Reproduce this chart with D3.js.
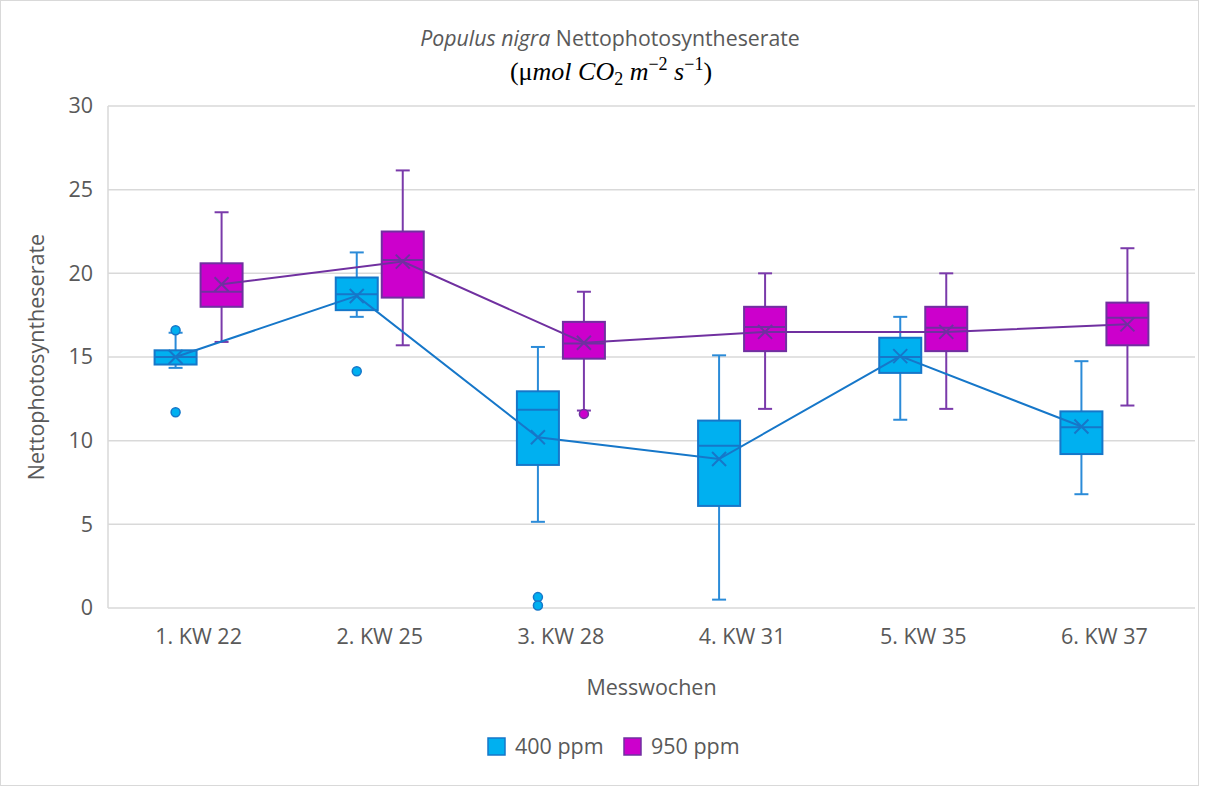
<!DOCTYPE html>
<html>
<head>
<meta charset="utf-8">
<script src="https://cdn.jsdelivr.net/npm/d3@7"></script>
<style>
  body { margin: 0; background: #fff; }
  text { font-family: "Open Sans", sans-serif; }
</style>
</head>
<body>
<div class="canvas"></div>
<script>
// data
const categories = ['1. KW 22', '2. KW 25', '3. KW 28', '4. KW 31', '5. KW 35', '6. KW 37'];
const seriesNames = ['400 ppm', '950 ppm'];

const low400  = [14.35, 17.4, 5.15, 0.5, 11.25, 6.8];
const q1_400  = [14.55, 17.8, 8.55, 6.1, 14.05, 9.2];
const med400  = [15.0, 18.75, 11.85, 9.7, 15.0, 10.8];
const q3_400  = [15.4, 19.75, 12.95, 11.2, 16.15, 11.75];
const high400 = [16.45, 21.25, 15.6, 15.1, 17.4, 14.75];
const mean400 = [15.0, 18.65, 10.2, 8.9, 15.05, 10.85];
const out400  = [[16.6, 11.7], [14.15], [0.65, 0.15], [], [], []];

const low950  = [15.9, 15.7, 11.8, 11.9, 11.9, 12.1];
const q1_950  = [18.0, 18.55, 14.9, 15.35, 15.35, 15.7];
const med950  = [18.9, 20.8, 15.8, 16.8, 16.75, 17.35];
const q3_950  = [20.6, 22.5, 17.1, 18.0, 18.0, 18.25];
const high950 = [23.65, 26.15, 18.9, 20.0, 20.0, 21.5];
const mean950 = [19.35, 20.7, 15.85, 16.5, 16.5, 16.95];
const out950  = [[], [], [11.6], [], [], []];

const yTicks = [0, 5, 10, 15, 20, 25, 30];

const dims = {width: 1206, height: 787};
const plot = {left: 108, right: 1195, top: 106, bottom: 608};
const fontSize = '21.5px';

const colors = {
    '400 ppm': {fill: '#00b0f0', stroke: '#1677c9', whisker: '#2b8bd8'},
    '950 ppm': {fill: '#cc00cc', stroke: '#7030a0', whisker: '#7a3aaa'}
};

const series = [
    {name: '400 ppm', low: low400, q1: q1_400, med: med400, q3: q3_400, high: high400, mean: mean400, out: out400, offset: -23},
    {name: '950 ppm', low: low950, q1: q1_950, med: med950, q3: q3_950, high: high950, mean: mean950, out: out950, offset: 23}
];

const svg = d3.select('.canvas')
    .append('svg')
    .attr('width', dims.width)
    .attr('height', dims.height);

// chart border
svg.append('rect')
    .attr('x', 0.5).attr('y', 0.5)
    .attr('width', 1198).attr('height', 785)
    .attr('fill', 'none')
    .attr('stroke', '#d9d9d9');

const x = d3.scaleBand()
    .domain(categories)
    .range([plot.left, plot.right]);

const y = d3.scaleLinear()
    .domain([0, 30])
    .range([plot.bottom, plot.top]);

// gridlines
svg.append('g')
    .selectAll('line')
    .data(yTicks)
    .enter().append('line')
        .attr('x1', plot.left).attr('x2', plot.right)
        .attr('y1', d => y(d)).attr('y2', d => y(d))
        .attr('stroke', '#d9d9d9')
        .attr('stroke-width', 1.5);

// left axis line
svg.append('line')
    .attr('x1', plot.left).attr('x2', plot.left)
    .attr('y1', plot.top).attr('y2', plot.bottom)
    .attr('stroke', '#d9d9d9')
    .attr('stroke-width', 1.5);

// y axis
const yAxis = d3.axisLeft(y).tickValues(yTicks).tickSize(0).tickPadding(15);
const yAxisGroup = svg.append('g')
    .attr('transform', `translate(${plot.left}, 0)`)
    .call(yAxis);
yAxisGroup.select('.domain').remove();
yAxisGroup.selectAll('text')
    .attr('fill', '#595959')
    .style('font-size', fontSize)
    .style('font-family', '"Open Sans", sans-serif');

// x axis
const xAxis = d3.axisBottom(x).tickSize(0).tickPadding(21);
const xAxisGroup = svg.append('g')
    .attr('transform', `translate(0, ${plot.bottom})`)
    .call(xAxis);
xAxisGroup.select('.domain').remove();
xAxisGroup.selectAll('text')
    .attr('fill', '#595959')
    .style('font-size', fontSize)
    .style('font-family', '"Open Sans", sans-serif');

// axis titles
svg.append('text')
    .attr('x', (plot.left + plot.right) / 2)
    .attr('y', 695)
    .attr('text-anchor', 'middle')
    .attr('fill', '#595959')
    .style('font-size', fontSize)
    .text('Messwochen');

svg.append('text')
    .attr('transform', `translate(44, ${(plot.top + plot.bottom) / 2}) rotate(-90)`)
    .attr('text-anchor', 'middle')
    .attr('fill', '#595959')
    .style('font-size', fontSize)
    .text('Nettophotosyntheserate');

// title
const title = svg.append('text')
    .attr('x', 610)
    .attr('y', 46)
    .attr('text-anchor', 'middle')
    .attr('fill', '#595959')
    .style('font-size', '21.3px');
title.append('tspan').style('font-style', 'italic').text('Populus nigra');
title.append('tspan').text(' Nettophotosyntheserate');

const unit = svg.append('text')
    .attr('x', 611)
    .attr('y', 80)
    .attr('text-anchor', 'middle')
    .attr('fill', '#000')
    .style('font-family', '"Liberation Serif", serif')
    .style('font-size', '26px');
unit.append('tspan').text('(μ');
unit.append('tspan').style('font-style', 'italic').text('mol CO');
unit.append('tspan').attr('dy', 5).style('font-size', '18px').text('2');
unit.append('tspan').attr('dy', -5).style('font-style', 'italic').text(' m');
unit.append('tspan').attr('dy', -10).style('font-size', '18px').text('−2');
unit.append('tspan').attr('dy', 10).style('font-style', 'italic').text(' s');
unit.append('tspan').attr('dy', -10).style('font-size', '18px').text('−1');
unit.append('tspan').attr('dy', 10).text(')');

// boxes
const boxW = 42;
const capW = 14;
const cx = (i, s) => x(categories[i]) + x.bandwidth() / 2 + s.offset;

series.forEach(s => {
    const c = colors[s.name];
    const g = svg.append('g');
    const idx = d3.range(categories.length);

    // whiskers
    g.selectAll('.whisker-up')
        .data(idx).enter().append('line')
            .attr('x1', i => cx(i, s)).attr('x2', i => cx(i, s))
            .attr('y1', i => y(s.q3[i])).attr('y2', i => y(s.high[i]))
            .attr('stroke', c.whisker).attr('stroke-width', 2);
    g.selectAll('.whisker-down')
        .data(idx).enter().append('line')
            .attr('x1', i => cx(i, s)).attr('x2', i => cx(i, s))
            .attr('y1', i => y(s.q1[i])).attr('y2', i => y(s.low[i]))
            .attr('stroke', c.whisker).attr('stroke-width', 2);
    g.selectAll('.cap-up')
        .data(idx).enter().append('line')
            .attr('x1', i => cx(i, s) - capW / 2).attr('x2', i => cx(i, s) + capW / 2)
            .attr('y1', i => y(s.high[i])).attr('y2', i => y(s.high[i]))
            .attr('stroke', c.whisker).attr('stroke-width', 2);
    g.selectAll('.cap-down')
        .data(idx).enter().append('line')
            .attr('x1', i => cx(i, s) - capW / 2).attr('x2', i => cx(i, s) + capW / 2)
            .attr('y1', i => y(s.low[i])).attr('y2', i => y(s.low[i]))
            .attr('stroke', c.whisker).attr('stroke-width', 2);

    // box
    g.selectAll('rect')
        .data(idx).enter().append('rect')
            .attr('x', i => cx(i, s) - boxW / 2)
            .attr('y', i => y(s.q3[i]))
            .attr('width', boxW)
            .attr('height', i => y(s.q1[i]) - y(s.q3[i]))
            .attr('fill', c.fill)
            .attr('stroke', c.stroke)
            .attr('stroke-width', 2);

    // median
    g.selectAll('.median')
        .data(idx).enter().append('line')
            .attr('x1', i => cx(i, s) - boxW / 2).attr('x2', i => cx(i, s) + boxW / 2)
            .attr('y1', i => y(s.med[i])).attr('y2', i => y(s.med[i]))
            .attr('stroke', c.stroke).attr('stroke-width', 2);

    // outliers
    const outs = [];
    s.out.forEach((vals, i) => vals.forEach(v => outs.push({i, v})));
    g.selectAll('circle')
        .data(outs).enter().append('circle')
            .attr('cx', d => cx(d.i, s))
            .attr('cy', d => y(d.v))
            .attr('r', 4.5)
            .attr('fill', c.fill)
            .attr('stroke', c.stroke)
            .attr('stroke-width', 1.5);
});

// mean lines and markers on top
series.forEach(s => {
    const c = colors[s.name];
    const idx = d3.range(categories.length);
    const line = d3.line()
        .x(i => cx(i, s))
        .y(i => y(s.mean[i]));

    svg.append('path')
        .attr('d', line(idx))
        .attr('fill', 'none')
        .attr('stroke', c.stroke)
        .attr('stroke-width', 2);

    const m = 7;
    svg.append('g').selectAll('path')
        .data(idx).enter().append('path')
            .attr('d', i => {
                const px = cx(i, s), py = y(s.mean[i]);
                return `M${px - m},${py - m}L${px + m},${py + m}M${px - m},${py + m}L${px + m},${py - m}`;
            })
            .attr('stroke', c.stroke)
            .attr('stroke-width', 2)
            .attr('fill', 'none');
});

// legend
const legend = svg.append('g')
    .attr('transform', 'translate(487, 737)');

const legendItems = legend.selectAll('g')
    .data(seriesNames)
    .enter().append('g')
        .attr('transform', (d, i) => `translate(${i * 136}, 0)`);

legendItems.append('rect')
    .attr('x', 1).attr('y', 1)
    .attr('width', 17).attr('height', 17)
    .attr('fill', d => colors[d].fill)
    .attr('stroke', d => colors[d].stroke)
    .attr('stroke-width', 1.5);

legendItems.append('text')
    .attr('x', 28)
    .attr('y', 17)
    .attr('fill', '#595959')
    .style('font-size', fontSize)
    .text(d => d);
</script>
</body>
</html>
